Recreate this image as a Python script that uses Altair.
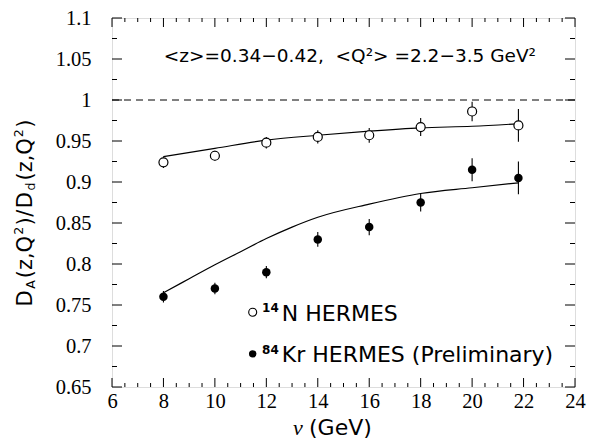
import altair as alt
import pandas as pd
import numpy as np

# ---- data ----
nu = [8, 10, 12, 14, 16, 18, 20, 21.8]
n14_ratio = [0.924, 0.932, 0.948, 0.955, 0.957, 0.967, 0.986, 0.969]
n14_err = [0.007, 0.006, 0.007, 0.008, 0.009, 0.011, 0.012, 0.020]
kr84_ratio = [0.760, 0.770, 0.790, 0.830, 0.845, 0.875, 0.915, 0.905]
kr84_err = [0.007, 0.007, 0.0075, 0.009, 0.010, 0.011, 0.014, 0.020]

curve_n_nu = [8, 10, 12, 14, 16, 18, 20, 21.8]
curve_n = [0.931, 0.941, 0.951, 0.957, 0.962, 0.966, 0.968, 0.971]
curve_kr_nu = [8, 9, 10, 11, 12, 13, 14, 16, 18, 20, 21.8]
curve_kr = [0.765, 0.782, 0.799, 0.815, 0.831, 0.845, 0.857, 0.873, 0.886, 0.893, 0.899]

x_major = [6, 8, 10, 12, 14, 16, 18, 20, 22, 24]
x_minor = [v for v in np.arange(6, 24.01, 0.5).round(2).tolist() if v not in x_major]
y_major = [0.65, 0.7, 0.75, 0.8, 0.85, 0.9, 0.95, 1.0, 1.05, 1.1]
y_minor = [round(v, 3) for v in np.arange(0.675, 1.1, 0.05)]

TOP = 18          # page y of the plot's top edge
W, H = 463, 369
SANS = "DejaVu Sans"
SERIF = "Liberation Serif"

xs = alt.Scale(domain=[6, 24], nice=False, zero=False)
ys = alt.Scale(domain=[0.65, 1.1], nice=False, zero=False)

AX = alt.Axis(values=x_major, format="d", title=None, grid=False,
              domain=False, ticks=False, tickSize=0, labelPadding=4,
              labelFont=SERIF, labelFontSize=20.5, labelColor="black",
              labelFlush=False, labelOverlap=False)
AY = alt.Axis(values=y_major, format=".2~f", title=None, grid=False,
              domain=False, ticks=False, tickSize=0, labelPadding=21,
              labelFont=SERIF, labelFontSize=20.5, labelColor="black",
              labelFlush=False, labelOverlap=False)


def X(f):
    return alt.X(f, scale=xs, axis=AX, title=None)


def Y(f):
    return alt.Y(f, scale=ys, axis=AY, title=None)


pts = pd.DataFrame({
    "nu": nu * 2,
    "r": n14_ratio + kr84_ratio,
    "e": n14_err + kr84_err,
    "s": ["N"] * len(nu) + ["Kr"] * len(nu),
})
pts["lo"] = pts["r"] - pts["e"]
pts["hi"] = pts["r"] + pts["e"]

cn = pd.DataFrame({"nu": curve_n_nu, "r": curve_n})
ck = pd.DataFrame({"nu": curve_kr_nu, "r": curve_kr})

dash = alt.Chart(pd.DataFrame({"nu": [6.0, 24.0], "r": [1.0, 1.0]})).mark_line(
    color="black", strokeWidth=1, strokeDash=[7, 5]
).encode(x=X("nu:Q"), y=Y("r:Q"))

line_n = alt.Chart(cn).mark_line(color="black", strokeWidth=1.2, interpolate="monotone").encode(
    x=X("nu:Q"), y=Y("r:Q"))
line_k = alt.Chart(ck).mark_line(color="black", strokeWidth=1.2, interpolate="monotone").encode(
    x=X("nu:Q"), y=Y("r:Q"))

err = alt.Chart(pts).mark_rule(color="black", strokeWidth=1.1).encode(
    x=X("nu:Q"), y=Y("lo:Q"), y2="hi:Q")

open_pts = alt.Chart(pts).transform_filter("datum.s == 'N'").mark_circle(
    fill="white", stroke="black", strokeWidth=1.2, opacity=1, size=81
).encode(x=X("nu:Q"), y=Y("r:Q"))
fill_pts = alt.Chart(pts).transform_filter("datum.s == 'Kr'").mark_circle(
    color="black", opacity=1, size=72
).encode(x=X("nu:Q"), y=Y("r:Q"))

# legend
leg_sym = pd.DataFrame({"nu": [11.47, 11.47], "r": [0.7412, 0.6904], "s": ["N", "Kr"]})
leg_open = alt.Chart(leg_sym).transform_filter("datum.s == 'N'").mark_circle(
    fill="white", stroke="black", strokeWidth=1.1, opacity=1, size=64
).encode(x=X("nu:Q"), y=Y("r:Q"))
leg_fill = alt.Chart(leg_sym).transform_filter("datum.s == 'Kr'").mark_circle(
    color="black", opacity=1, size=56
).encode(x=X("nu:Q"), y=Y("r:Q"))

leg_txt = pd.DataFrame({"nu": [12.6, 12.6], "r": [0.7304, 0.680],
                        "t": ["N HERMES", "Kr HERMES (Preliminary)"]})
leg_sup = pd.DataFrame({"nu": [12.6, 12.6], "r": [0.7412, 0.6908], "t": ["14", "84"]})
leg_text = alt.Chart(leg_txt).mark_text(
    align="left", baseline="alphabetic", font=SANS, fontSize=22, color="black"
).encode(x=X("nu:Q"), y=Y("r:Q"), text="t:N")
leg_stext = alt.Chart(leg_sup).mark_text(
    align="right", baseline="alphabetic", font=SANS, fontSize=12, fontWeight="bold",
    color="black", dx=-3
).encode(x=X("nu:Q"), y=Y("r:Q"), text="t:N")

title_df = pd.DataFrame({"nu": [15.25], "r": [1.046],
                         "t": ["<z>=0.34\u22120.42,\u00a0 <Q\u00b2> =2.2\u22123.5 GeV\u00b2"]})
title = alt.Chart(title_df).mark_text(
    align="center", baseline="alphabetic", font=SANS, fontSize=18.5, color="black"
).encode(x=X("nu:Q"), y=Y("r:Q"), text="t:N")

# ticks (inside, on all four sides)
tx_major = pd.DataFrame({"v": x_major})
tx_minor = pd.DataFrame({"v": x_minor})
ty_major = pd.DataFrame({"v": y_major})
ty_minor = pd.DataFrame({"v": y_minor})


def xticks(df, L):
    b = alt.Chart(df).mark_rule(color="black", strokeWidth=1).encode(
        x=X("v:Q"), y=alt.value(H), y2=alt.value(H - L))
    t = alt.Chart(df).mark_rule(color="black", strokeWidth=1).encode(
        x=X("v:Q"), y=alt.value(0), y2=alt.value(L))
    return [b, t]


def yticks(df, L):
    l = alt.Chart(df).mark_rule(color="black", strokeWidth=1).encode(
        y=Y("v:Q"), x=alt.value(0), x2=alt.value(L))
    r = alt.Chart(df).mark_rule(color="black", strokeWidth=1).encode(
        y=Y("v:Q"), x=alt.value(W), x2=alt.value(W - L))
    return [l, r]


ticks = xticks(tx_major, 9) + xticks(tx_minor, 4) + yticks(ty_major, 10) + yticks(ty_minor, 5)


# axis titles built from pieces (for sub/superscripts)
def piece(txt, px, py, size, font=SANS, angle=270, style="normal", align="center"):
    return alt.Chart(pd.DataFrame({"t": [txt]})).mark_text(
        align=align, baseline="alphabetic", font=font, fontSize=size,
        angle=angle, color="black", fontStyle=style
    ).encode(x=alt.value(px), y=alt.value(py - TOP), text="t:N")


# y title: D_A(z,Q^2)/D_d(z,Q^2), laid out piece by piece (bottom to top)
EM = {"D": 0.770, "A": 0.684, "(": 0.390, "z": 0.525, ",": 0.318, "Q": 0.787,
      "2": 0.636, ")": 0.390, "/": 0.337, "d": 0.635}
MAIN, SMALL = 21, 12.5
MX, SX, PX = -79.7, -77.5, -89.0
parts = [("D", "m"), ("A", "sub"), ("(z,Q", "m"), ("2", "sup"), (")", "m"),
         ("/", "m"), ("D", "m"), ("d", "sub"), ("(z,Q", "m"), ("2", "sup"), (")", "m")]
gaps = [1.5, 2, 1, 1.5, 0.5, 1.5, 1.5, 2, 1, 1.5]
lengths = [sum(EM[c] for c in t) * (MAIN if k == "m" else SMALL) for t, k in parts]
total = sum(lengths) + sum(gaps)
cursor = 213 + total / 2   # page y of the bottom end, centred like the reference
ytitle = []
for i, ((t, k), L) in enumerate(zip(parts, lengths)):
    xpos = {"m": MX, "sub": SX, "sup": PX}[k]
    ytitle.append(piece(t, xpos, cursor, MAIN if k == "m" else SMALL, align="left"))
    cursor -= L + (gaps[i] if i < len(gaps) else 0)

xtitle = [
    piece("\u03bd", 181, 435, 22, font=SERIF, angle=0, style="italic", align="left"),
    piece("(GeV)", 197, 435, 22, angle=0, align="left"),
]

chart = alt.layer(
    dash, line_n, line_k, err, open_pts, fill_pts,
    leg_open, leg_fill, leg_text, leg_stext, title,
    *ticks, *ytitle, *xtitle
).properties(
    width=W, height=H,
    autosize=alt.AutoSizeParams(type="none"),
    padding={"left": 104, "top": TOP - 8, "right": 24, "bottom": 434 - (TOP - 8) - H},
).configure_view(stroke="black", strokeWidth=1.8).configure(background="white")

chart.save("out.html", embed_options={"renderer": "svg", "actions": False})
